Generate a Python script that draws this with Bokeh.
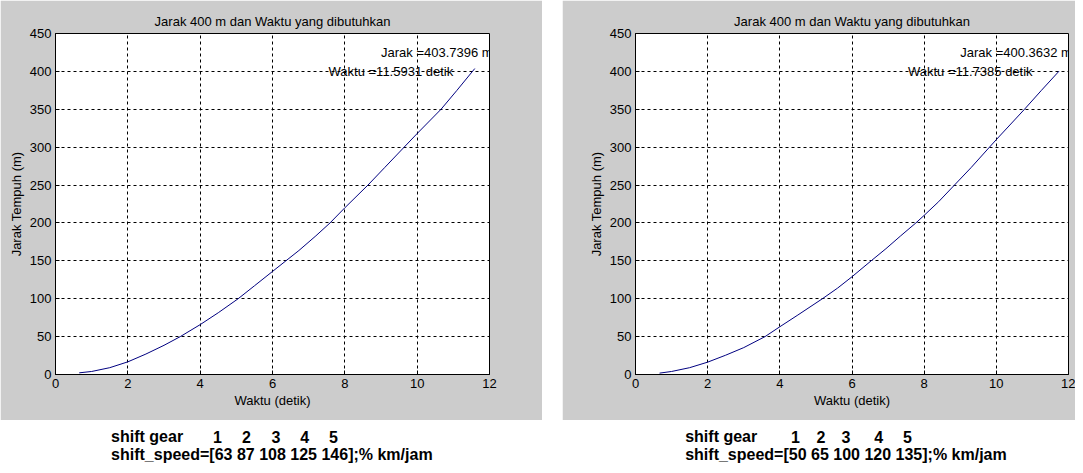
from bokeh.plotting import figure
from bokeh.models import Range1d, FixedTicker, Label, ColumnDataSource, Spacer
from bokeh.layouts import row, column
from bokeh.core.properties import value
from bokeh.embed import file_html
from bokeh.resources import INLINE

# ---------------- data ----------------
title_text = "Jarak 400 m dan Waktu yang dibutuhkan"
x_label = "Waktu (detik)"
y_label = "Jarak Tempuh (m)"
x_ticks = [0, 2, 4, 6, 8, 10, 12]
y_ticks = [0, 50, 100, 150, 200, 250, 300, 350, 400, 450]

# left run (time in s, distance in m)
left_t = [0.656, 1.0, 1.5, 2.0, 2.5, 3.0, 3.45, 4.0, 4.5, 5.05, 5.5, 6.0, 6.37, 6.73,
          7.2, 7.59, 8.0, 8.64, 9.1, 9.64, 10.0, 10.66, 11.1, 11.5931]
left_d = [2.2, 4.0, 9.0, 16.7, 27.0, 38.5, 50.0, 65.8, 81.5, 100.0, 117.0, 136.0, 150.0, 163.6,
          183.0, 200.0, 220.0, 250.0, 273.0, 300.0, 318.0, 350.0, 375.0, 403.7396]
left_jarak = "403.7396"
left_waktu = "11.5931"
left_speeds = [63, 87, 108, 125, 146]

# right run
right_t = [0.666, 1.0, 1.5, 2.0, 2.5, 3.0, 3.59, 4.0, 4.5, 5.18, 5.6, 6.0, 6.53, 6.94,
           7.35, 7.77, 8.0, 8.4, 8.84, 9.3, 9.81, 10.0, 10.78, 11.25, 11.7385]
right_d = [1.8, 4.0, 9.0, 16.3, 25.5, 35.5, 50.0, 63.0, 78.5, 100.0, 114.0, 129.0, 150.0, 166.0,
           183.0, 200.0, 210.0, 228.0, 250.0, 273.0, 300.0, 310.0, 350.0, 375.0, 400.3632]
right_jarak = "400.3632"
right_waktu = "11.7385"
right_speeds = [50, 65, 100, 120, 135]

gears = [1, 2, 3, 4, 5]

FONT = "Liberation Sans"
GRAY = "#cccccc"
LINE = "#000080"
PANEL_H = 420


def make_panel(t, d, jarak, waktu, width, bl, br, bt, bb):
    p = figure(width=width, height=PANEL_H, output_backend="svg", toolbar_location=None,
               x_range=Range1d(0, 12), y_range=Range1d(0, 450),
               min_border_left=bl, min_border_right=br,
               min_border_top=bt, min_border_bottom=bb)
    p.border_fill_color = GRAY
    p.background_fill_color = "white"
    p.outline_line_color = "black"
    p.outline_line_width = 1
    p.outline_line_alpha = 1

    p.title.text = title_text
    p.title.align = "center"
    p.title.text_font = FONT
    p.title.text_font_size = "13px"
    p.title.text_font_style = "normal"
    p.title.text_color = "black"
    p.title.standoff = 9

    p.xaxis.ticker = FixedTicker(ticks=x_ticks)
    p.yaxis.ticker = FixedTicker(ticks=y_ticks)
    p.xaxis.axis_label = x_label
    p.yaxis.axis_label = y_label
    for ax in (p.xaxis, p.yaxis):
        ax.axis_line_color = "black"
        ax.major_tick_line_color = "black"
        ax.major_tick_in = 4
        ax.major_tick_out = 0
        ax.minor_tick_line_color = None
        ax.major_label_text_font = FONT
        ax.major_label_text_font_size = "13px"
        ax.major_label_text_color = "black"
        ax.axis_label_text_font = FONT
        ax.axis_label_text_font_size = "13px"
        ax.axis_label_text_font_style = "normal"
        ax.axis_label_text_color = "black"
    p.xaxis.major_label_standoff = 4
    p.xaxis.axis_label_standoff = 2
    p.yaxis.major_label_standoff = 4
    p.yaxis.axis_label_standoff = 3

    for g in (p.xgrid, p.ygrid):
        g.grid_line_color = "black"
        g.grid_line_dash = "3 3"
        g.grid_line_alpha = 1
        g.grid_line_width = 1

    p.line(t, d, line_color=LINE, line_width=1)

    p.add_layout(Label(x=9.0, y=425, text="Jarak =" + jarak + " m",
                       text_baseline="middle", text_align="left",
                       text_font=FONT, text_font_size="13px", text_color="black"))
    p.add_layout(Label(x=7.55, y=400, text="Waktu =" + waktu + " detik",
                       text_baseline="middle", text_align="left",
                       text_font=FONT, text_font_size="13px", text_color="black"))
    return p


p1 = make_panel(left_t, left_d, left_jarak, left_waktu, 542, 55, 53, 32, 46)
p2 = make_panel(right_t, right_d, right_jarak, right_waktu, 513, 73, 7, 33, 45)

# bottom text strip (pixel coordinates, y measured from the top)
H3 = 45
p3 = figure(width=1075, height=H3, output_backend="svg", toolbar_location=None,
            x_range=Range1d(0, 1075), y_range=Range1d(H3, 0),
            min_border=0, x_axis_type=None, y_axis_type=None)
p3.outline_line_color = None
p3.background_fill_color = "white"
p3.border_fill_color = "white"
p3.xgrid.visible = False
p3.ygrid.visible = False


def speed_line(speeds):
    return "shift_speed=[" + " ".join(str(s) for s in speeds) + "];% km/jam"


LINE1_Y = 16
LINE2_Y = 33.5
src_left = ColumnDataSource(dict(
    x=[110.6, 110.6], y=[LINE1_Y, LINE2_Y],
    txt=["shift gear", speed_line(left_speeds)]))
src_right = ColumnDataSource(dict(
    x=[684.7, 684.7], y=[LINE1_Y, LINE2_Y],
    txt=["shift gear", speed_line(right_speeds)]))
gear_left_x = [217, 246, 275.4, 304.2, 333]
gear_right_x = [795, 820.5, 845.4, 878.3, 907]
src_gears = ColumnDataSource(dict(
    x=gear_left_x + gear_right_x, y=[LINE1_Y] * 10,
    txt=[str(g) for g in gears] * 2))

for src, align in ((src_left, "left"), (src_right, "left"), (src_gears, "center")):
    p3.text(x="x", y="y", text="txt", source=src, text_align=align,
            text_baseline="alphabetic", text_font=value(FONT),
            text_font_size="16px", text_font_style="bold", text_color="black")

layout = column(row(p1, Spacer(width=20, height=PANEL_H), p2), p3)

open("out.html", "w").write(file_html(layout, INLINE))
